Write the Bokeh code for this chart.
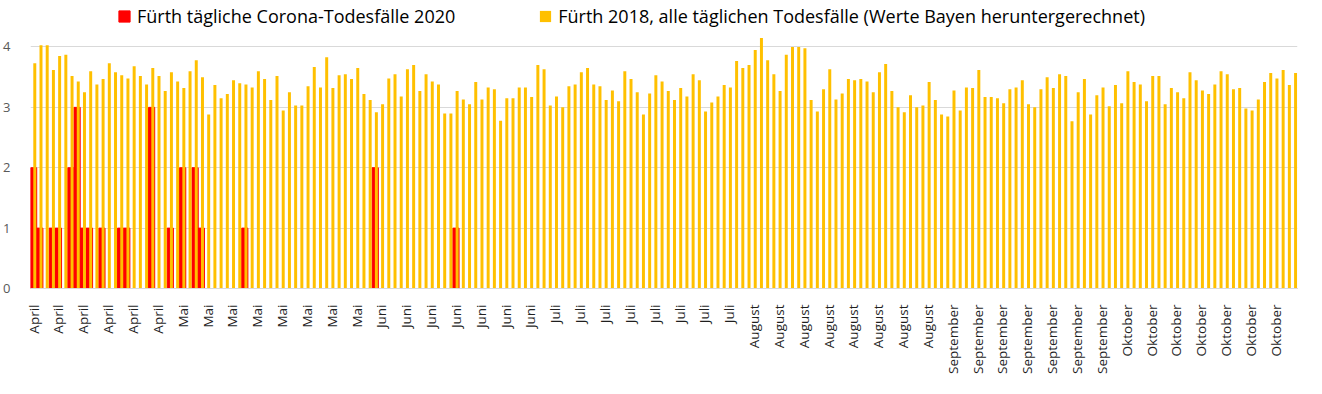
from math import pi
from bokeh.plotting import figure
from bokeh.models import ColumnDataSource, FixedTicker, Legend, LegendItem, Range1d
from bokeh.transform import dodge
from bokeh.embed import file_html
from bokeh.resources import INLINE

# Fürth 2018, all daily deaths (scaled down from Bavaria), one value per day
yellow_2018 = [
    3.73, 4.03, 4.03, 3.62, 3.85, 3.87, 3.52, 3.43, 3.25, 3.60,
    3.38, 3.47, 3.73, 3.58, 3.53, 3.48, 3.68, 3.52, 3.38, 3.65,
    3.52, 3.27, 3.58, 3.43, 3.32, 3.60, 3.78, 3.50, 2.88, 3.37,
    3.15, 3.22, 3.45, 3.40, 3.38, 3.33, 3.60, 3.47, 3.12, 3.52,
    2.95, 3.25, 3.03, 3.03, 3.35, 3.67, 3.33, 3.83, 3.32, 3.53,
    3.55, 3.47, 3.65, 3.22, 3.12, 2.92, 3.05, 3.48, 3.55, 3.18,
    3.63, 3.70, 3.27, 3.55, 3.43, 3.38, 2.90, 2.90, 3.27, 3.13,
    3.05, 3.42, 3.13, 3.33, 3.30, 2.78, 3.15, 3.15, 3.33, 3.33,
    3.17, 3.70, 3.63, 3.03, 3.18, 3.00, 3.35, 3.38, 3.58, 3.65,
    3.38, 3.35, 3.12, 3.28, 3.10, 3.60, 3.47, 3.25, 2.88, 3.23,
    3.53, 3.43, 3.27, 3.12, 3.32, 3.18, 3.55, 3.45, 2.93, 3.08,
    3.18, 3.37, 3.33, 3.77, 3.65, 3.70, 3.95, 4.15, 3.78, 3.55,
    3.27, 3.87, 4.00, 4.00, 3.98, 3.12, 2.93, 3.30, 3.63, 3.13,
    3.23, 3.47, 3.45, 3.47, 3.43, 3.25, 3.58, 3.72, 3.27, 3.00,
    2.92, 3.20, 3.00, 3.03, 3.42, 3.12, 2.88, 2.85, 3.28, 2.95,
    3.33, 3.32, 3.62, 3.17, 3.17, 3.15, 3.07, 3.30, 3.33, 3.45,
    3.05, 3.00, 3.30, 3.50, 3.32, 3.55, 3.52, 2.77, 3.25, 3.47,
    2.88, 3.20, 3.33, 3.02, 3.37, 3.07, 3.60, 3.42, 3.38, 3.10,
    3.52, 3.52, 3.05, 3.32, 3.25, 3.15, 3.58, 3.45, 3.28, 3.22,
    3.38, 3.60, 3.55, 3.30, 3.32, 2.98, 2.95, 3.13, 3.42, 3.57,
    3.48, 3.62, 3.37, 3.57,
]

# Fürth daily Corona deaths 2020, one value per day
red_2020 = [
    2, 1, 0, 1, 1, 0, 2, 3, 1, 1,
    0, 1, 0, 0, 1, 1, 0, 0, 0, 3,
    0, 0, 1, 0, 2, 0, 2, 1, 0, 0,
    0, 0, 0, 0, 1, 0, 0, 0, 0, 0,
    0, 0, 0, 0, 0, 0, 0, 0, 0, 0,
    0, 0, 0, 0, 0, 2, 0, 0, 0, 0,
    0, 0, 0, 0, 0, 0, 0, 0, 1, 0,
] + [0] * (204 - 70)

# month label shown on every 4th day
tick_labels = (["April"] * 6 + ["Mai"] * 8 + ["Juni"] * 7 + ["Juli"] * 8
               + ["August"] * 8 + ["September"] * 7 + ["Oktober"] * 7)
label_step = 4

series_names = ["Fürth tägliche Corona-Todesfälle 2020",
                "Fürth 2018, alle täglichen Todesfälle (Werte Bayen heruntergerechnet)"]

n = len(yellow_2018)
days = list(range(n))
src = ColumnDataSource(dict(day=days, y18=yellow_2018, c20=red_2020))

p = figure(width=1306, height=378, output_backend="svg", toolbar_location=None,
           x_range=Range1d(-0.5, n - 0.5), y_range=Range1d(0, 4.77),
           min_border_left=26, min_border_right=9, min_border_top=0,
           min_border_bottom=90)
p.outline_line_color = None
p.background_fill_color = "white"
p.border_fill_color = "white"

r_red = p.vbar(x="day", top="c20", width=1.0, source=src,
               fill_color="#FF0000", line_color="#FF0000", line_width=1)
r_yel = p.vbar(x=dodge("day", 0.19, range=p.x_range), top="y18", width=0.48,
               source=src, fill_color="#FFC000", line_color=None)

# x axis
ticks = [i * label_step for i in range(len(tick_labels))]
p.xaxis.ticker = FixedTicker(ticks=ticks)
p.xaxis.major_label_overrides = {t: lab for t, lab in zip(ticks, tick_labels)}
p.xaxis.major_label_orientation = pi / 2
p.xaxis.axis_line_color = "#D9D9D9"
p.xaxis.major_tick_line_color = None
p.xaxis.minor_tick_line_color = None
p.xaxis.major_label_standoff = 10
p.xaxis.major_label_text_font = "Open Sans"
p.xaxis.major_label_text_font_size = "13.5px"
p.xaxis.major_label_text_color = "#1F1F1F"
p.xgrid.visible = False

# y axis
p.yaxis.ticker = FixedTicker(ticks=[0, 1, 2, 3, 4])
p.yaxis.axis_line_color = None
p.yaxis.major_tick_line_color = None
p.yaxis.minor_tick_line_color = None
p.yaxis.major_label_standoff = 14
p.yaxis.major_label_text_font = "Open Sans"
p.yaxis.major_label_text_font_size = "13px"
p.yaxis.major_label_text_color = "#595959"
p.ygrid.ticker = FixedTicker(ticks=[1, 2, 3, 4])
p.ygrid.grid_line_color = "#D9D9D9"
p.ygrid.grid_line_width = 1

legend = Legend(items=[LegendItem(label=series_names[0], renderers=[r_red]),
                       LegendItem(label=series_names[1], renderers=[r_yel])],
                orientation="horizontal", location=(87, 260),
                border_line_color=None, background_fill_alpha=0,
                padding=0, margin=0, spacing=83,
                glyph_width=14, glyph_height=14, label_standoff=6,
                label_text_font="Open Sans", label_text_font_size="18px",
                label_text_color="#000000")
p.add_layout(legend)

open("out.html", "w").write(file_html(p, INLINE))
